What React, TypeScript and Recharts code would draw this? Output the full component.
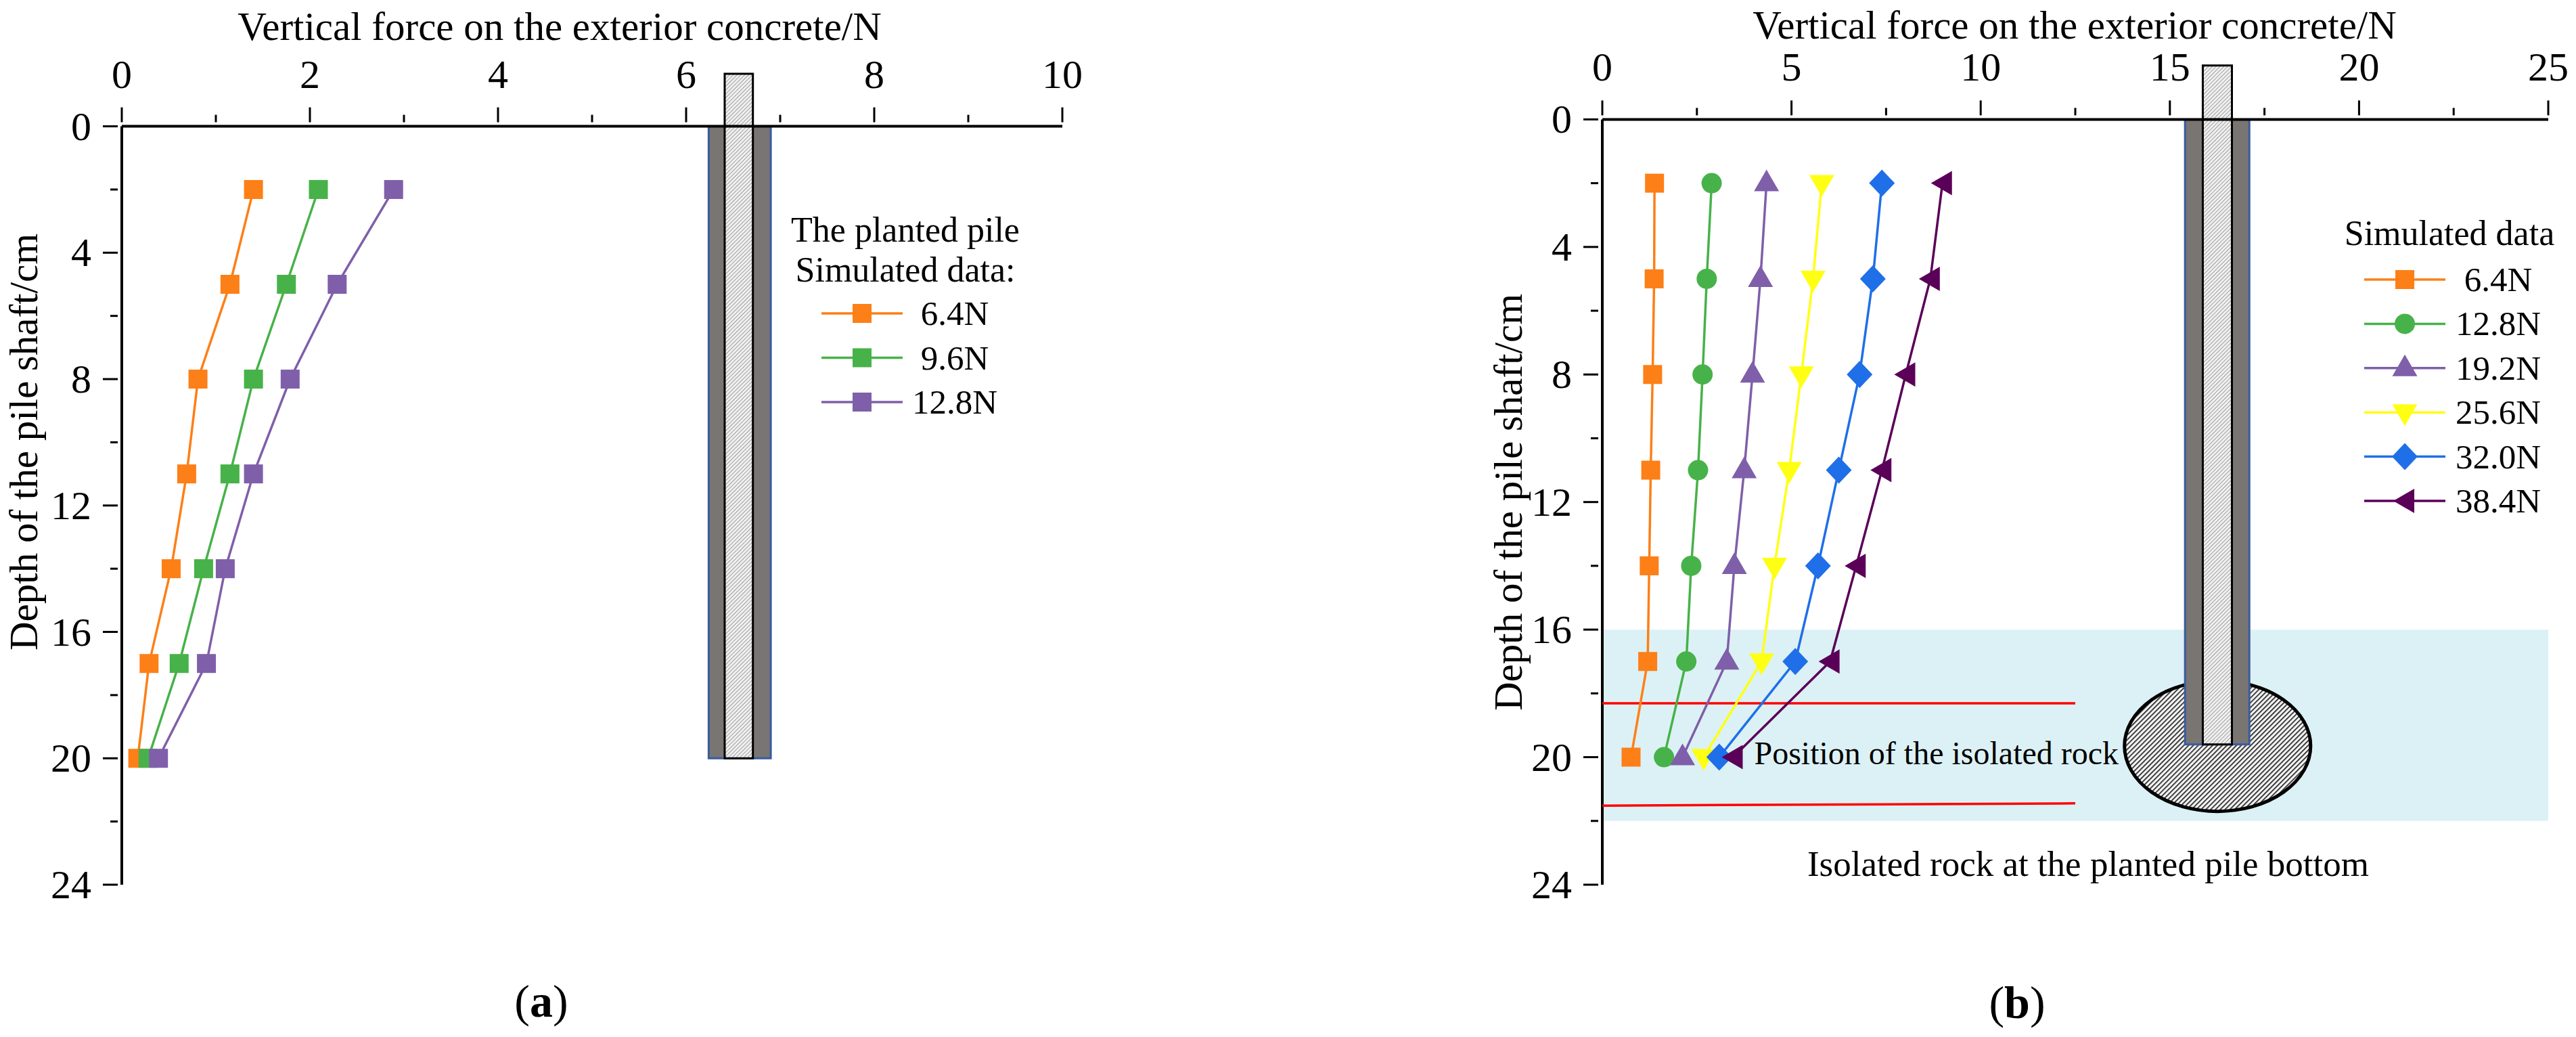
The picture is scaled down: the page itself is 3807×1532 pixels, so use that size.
import React from 'react';
import { ScatterChart, Scatter, XAxis, YAxis, ReferenceArea } from 'recharts';

const FONT = '"Liberation Serif", serif';

const depths = [2, 5, 8, 11, 14, 17, 20];

// panel (a) force values
const plantedA = [1.4, 1.15, 0.81, 0.69, 0.525, 0.29, 0.17];
const plantedB = [2.09, 1.75, 1.4, 1.15, 0.87, 0.61, 0.28];
const plantedC = [2.89, 2.29, 1.79, 1.4, 1.1, 0.9, 0.39];

// panel (b) force values
const rock64 = [1.38, 1.37, 1.33, 1.28, 1.24, 1.2, 0.76];
const rock128 = [2.89, 2.76, 2.65, 2.53, 2.35, 2.22, 1.63];
const rock192 = [4.34, 4.18, 3.97, 3.75, 3.49, 3.29, 2.12];
const rock256 = [5.8, 5.57, 5.26, 4.94, 4.55, 4.21, 2.68];
const rock320 = [7.39, 7.15, 6.8, 6.25, 5.7, 5.1, 3.09];
const rock384 = [8.99, 8.67, 8.02, 7.39, 6.71, 6.02, 3.46];

const xTicksA = [0, 1, 2, 3, 4, 5, 6, 7, 8, 9, 10];
const xLabelsA = [0, 2, 4, 6, 8, 10];
const xTicksB = [0, 2.5, 5, 7.5, 10, 12.5, 15, 17.5, 20, 22.5, 25];
const xLabelsB = [0, 5, 10, 15, 20, 25];
const yTicks = [0, 2, 4, 6, 8, 10, 12, 14, 16, 18, 20, 22, 24];
const yLabels = [0, 4, 8, 12, 16, 20, 24];

const redUpper = [{ force: 0, depth: 18.31 }, { force: 12.5, depth: 18.31 }];
const redLower = [
  { force: 0, depth: 21.52 },
  { force: 3.1, depth: 21.5 },
  { force: 9.4, depth: 21.47 },
  { force: 12.5, depth: 21.45 },
];

const ORANGE = '#fd7f17';
const GREEN = '#47b249';
const PURPLE = '#7f5fa9';
const YELLOW = '#ffff14';
const BLUE = '#1f6fe8';
const PLUM = '#5b0058';

const seriesA = [
  { name: '6.4N', values: plantedA, color: ORANGE, marker: 'square' },
  { name: '9.6N', values: plantedB, color: GREEN, marker: 'square' },
  { name: '12.8N', values: plantedC, color: PURPLE, marker: 'square' },
];
const seriesB = [
  { name: '6.4N', values: rock64, color: ORANGE, marker: 'square' },
  { name: '12.8N', values: rock128, color: GREEN, marker: 'circle' },
  { name: '19.2N', values: rock192, color: PURPLE, marker: 'up' },
  { name: '25.6N', values: rock256, color: YELLOW, marker: 'down' },
  { name: '32.0N', values: rock320, color: BLUE, marker: 'diamond' },
  { name: '38.4N', values: rock384, color: PLUM, marker: 'left' },
];

const toPoints = (values: number[]) => values.map((v, i) => ({ force: v, depth: depths[i] }));

function Marker({ kind, color, cx, cy }: any) {
  if (kind === 'circle') return <circle cx={cx} cy={cy} r={15} fill={color} />;
  if (kind === 'up') return <path d={`M${cx} ${cy - 20}L${cx + 18.5} ${cy + 12}H${cx - 18.5}Z`} fill={color} />;
  if (kind === 'down') return <path d={`M${cx} ${cy + 20}L${cx + 18.5} ${cy - 12}H${cx - 18.5}Z`} fill={color} />;
  if (kind === 'diamond') return <path d={`M${cx} ${cy - 20}L${cx + 19} ${cy}L${cx} ${cy + 20}L${cx - 19} ${cy}Z`} fill={color} />;
  if (kind === 'left') return <path d={`M${cx - 17} ${cy}L${cx + 14} ${cy - 18}V${cy + 18}Z`} fill={color} />;
  return <rect x={cx - 14} y={cy - 14} width={28} height={28} fill={color} />;
}

const XTick = ({ x, y, payload, labels }: any) => {
  const major = labels.includes(payload.value);
  return (
    <g>
      <line x1={x} x2={x} y1={y} y2={y - (major ? 22 : 11)} stroke="#000" strokeWidth={3} />
      {major && (
        <text x={x} y={y - 51} textAnchor="middle" fontSize={60} fontFamily={FONT} fill="#000">
          {payload.value}
        </text>
      )}
    </g>
  );
};

const YTick = ({ x, y, payload }: any) => {
  const major = yLabels.includes(payload.value);
  return (
    <g>
      <line x1={x} x2={x - (major ? 22 : 11)} y1={y} y2={y} stroke="#000" strokeWidth={3} />
      {major && (
        <text x={x - 39} y={y + 20} textAnchor="end" fontSize={60} fontFamily={FONT} fill="#000">
          {payload.value}
        </text>
      )}
    </g>
  );
};

const RockShape = ({ x, y, width, height }: any) => (
  <ellipse
    cx={x + width / 2}
    cy={y + height / 2}
    rx={width / 2}
    ry={height / 2}
    fill="url(#rockHatch)"
    stroke="#000"
    strokeWidth={5}
  />
);

function Legend({ title, series, lineX, textX, titleX, titleY, rowY, rowGap }: any) {
  return (
    <g fontFamily={FONT} fill="#000">
      {title.map((t: string, i: number) => (
        <text key={t} x={titleX} y={titleY + i * 59} textAnchor="middle" fontSize={52}>
          {t}
        </text>
      ))}
      {series.map((s: any, i: number) => {
        const y = rowY + i * rowGap;
        return (
          <g key={s.name}>
            <line x1={lineX} x2={lineX + 120} y1={y} y2={y} stroke={s.color} strokeWidth={3.5} />
            <Marker kind={s.marker} color={s.color} cx={lineX + 60} cy={y} />
            <text x={textX} y={y + 17} textAnchor="middle" fontSize={51}>
              {s.name}
            </text>
          </g>
        );
      })}
    </g>
  );
}

const Patterns = () => (
  <defs>
    <pattern id="pileHatch" width="4" height="4" patternUnits="userSpaceOnUse" patternTransform="rotate(45)">
      <rect width="4" height="4" fill="#f0f0f0" />
      <line x1="0" y1="0" x2="0" y2="4" stroke="#8a8a8a" strokeWidth="1.6" />
    </pattern>
    <pattern id="rockHatch" width="5" height="5" patternUnits="userSpaceOnUse" patternTransform="rotate(45)">
      <rect width="5" height="5" fill="#f4f4f4" />
      <line x1="0" y1="0" x2="0" y2="5" stroke="#222" strokeWidth="3.4" />
    </pattern>
  </defs>
);

function Panel({ width, plotLeft, plotRight, plotTop, plotBottom, xMax, xTicks, xLabels, series, pile, children, extras }: any) {
  return (
    <ScatterChart
      width={width}
      height={1532}
      margin={{ top: 0, left: 0, right: width - plotRight, bottom: 1532 - plotBottom }}
      style={{ fontFamily: FONT }}
    >
      <Patterns />
      <XAxis
        xAxisId={0}
        type="number"
        dataKey="force"
        orientation="top"
        domain={[0, xMax]}
        ticks={xTicks}
        interval={0}
        height={plotTop}
        axisLine={{ stroke: '#000', strokeWidth: 4 }}
        tickLine={false}
        tickMargin={0}
        tick={<XTick labels={xLabels} />}
      />
      <YAxis
        yAxisId={0}
        type="number"
        dataKey="depth"
        reversed
        domain={[0, 24]}
        ticks={yTicks}
        interval={0}
        width={plotLeft}
        axisLine={{ stroke: '#000', strokeWidth: 4 }}
        tickLine={false}
        tickMargin={0}
        tick={<YTick />}
      />
      {extras}
      <ReferenceArea x1={pile.outer[0]} x2={pile.outer[1]} y1={0} y2={pile.bottom} ifOverflow="visible" fill="#787572" fillOpacity={1} stroke="#3a5ba0" strokeWidth={3} />
      <ReferenceArea x1={pile.inner[0]} x2={pile.inner[1]} y1={pile.top} y2={pile.bottom} ifOverflow="visible" fill="url(#pileHatch)" fillOpacity={1} stroke="#000" strokeWidth={3} />
      {series.map((s: any) => (
        <Scatter
          key={s.name}
          name={s.name}
          data={toPoints(s.values)}
          line={{ stroke: s.color, strokeWidth: 3.5 }}
          fill={s.color}
          isAnimationActive={false}
          shape={(p: any) => <Marker kind={s.marker} color={s.color} cx={p.cx} cy={p.cy} />}
        />
      ))}
      {children}
    </ScatterChart>
  );
}

const Label = ({ x, y, size = 59, children, anchor = 'middle', rotate }: any) => (
  <text
    x={x}
    y={y}
    textAnchor={anchor}
    fontSize={size}
    fontFamily={FONT}
    fill="#000"
    transform={rotate ? `rotate(${rotate} ${x} ${y})` : undefined}
  >
    {children}
  </text>
);

export default function App() {
  return (
    <div style={{ position: 'absolute', left: 0, top: 0, width: 3807, height: 1532, background: '#fff' }}>
      <div style={{ position: 'absolute', left: 0, top: 0 }}>
        <Panel
          width={1700}
          plotLeft={180}
          plotRight={1570}
          plotTop={186.6}
          plotBottom={1307}
          xMax={10}
          xTicks={xTicksA}
          xLabels={xLabelsA}
          series={seriesA}
          pile={{ outer: [6.24, 6.9], inner: [6.41, 6.71], top: -1.66, bottom: 20 }}
        >
          <Label x={827} y={59}>Vertical force on the exterior concrete/N</Label>
          <Label x={55} y={653} rotate={-90}>Depth of the pile shaft/cm</Label>
          <Legend
            title={['The planted pile', 'Simulated data:']}
            series={seriesA}
            lineX={1214}
            textX={1411}
            titleX={1338}
            titleY={357}
            rowY={463}
            rowGap={65.5}
          />
          <Label x={800} y={1502} size={68}>(<tspan fontWeight="bold">a</tspan>)</Label>
        </Panel>
      </div>
      <div style={{ position: 'absolute', left: 2100, top: 0 }}>
        <Panel
          width={1707}
          plotLeft={268}
          plotRight={1666}
          plotTop={176.4}
          plotBottom={1307}
          xMax={25}
          xTicks={xTicksB}
          xLabels={xLabelsB}
          series={seriesB}
          pile={{ outer: [15.4, 17.1], inner: [15.87, 16.64], top: -1.69, bottom: 19.6 }}
          extras={[
            <ReferenceArea key="band" x1={0} x2={25} y1={16} y2={22} fill="#dcf1f5" fillOpacity={1} stroke="none" />,
            <ReferenceArea key="rock" x1={13.8} x2={18.72} y1={17.6} y2={21.7} ifOverflow="visible" shape={<RockShape />} />,
            // the band paints above plain svg children, so this text has to be a reference label
            <ReferenceArea
              key="rockNote"
              x1={4.03}
              x2={13.63}
              y1={19.35}
              y2={20.35}
              fill="none"
              stroke="none"
              label={{ value: 'Position of the isolated rock', position: 'center', fontSize: 48, fontFamily: FONT, fill: '#000' }}
            />,
            <Scatter key="redU" data={redUpper} line={{ stroke: '#ff0000', strokeWidth: 3.5 }} shape={() => null} isAnimationActive={false} />,
            <Scatter key="redL" data={redLower} line={{ stroke: '#ff0000', strokeWidth: 3.5 }} shape={() => null} isAnimationActive={false} />,
          ]}
        >
          <Label x={966} y={57}>Vertical force on the exterior concrete/N</Label>
          <Label x={149} y={742} rotate={-90}>Depth of the pile shaft/cm</Label>
          <Legend
            title={['Simulated data']}
            series={seriesB}
            lineX={1394}
            textX={1592}
            titleX={1520}
            titleY={362}
            rowY={413}
            rowGap={65.4}
          />
          <Label x={986} y={1294} size={53}>Isolated rock at the planted pile bottom</Label>
          <Label x={881} y={1504} size={68}>(<tspan fontWeight="bold">b</tspan>)</Label>
        </Panel>
      </div>
    </div>
  );
}
